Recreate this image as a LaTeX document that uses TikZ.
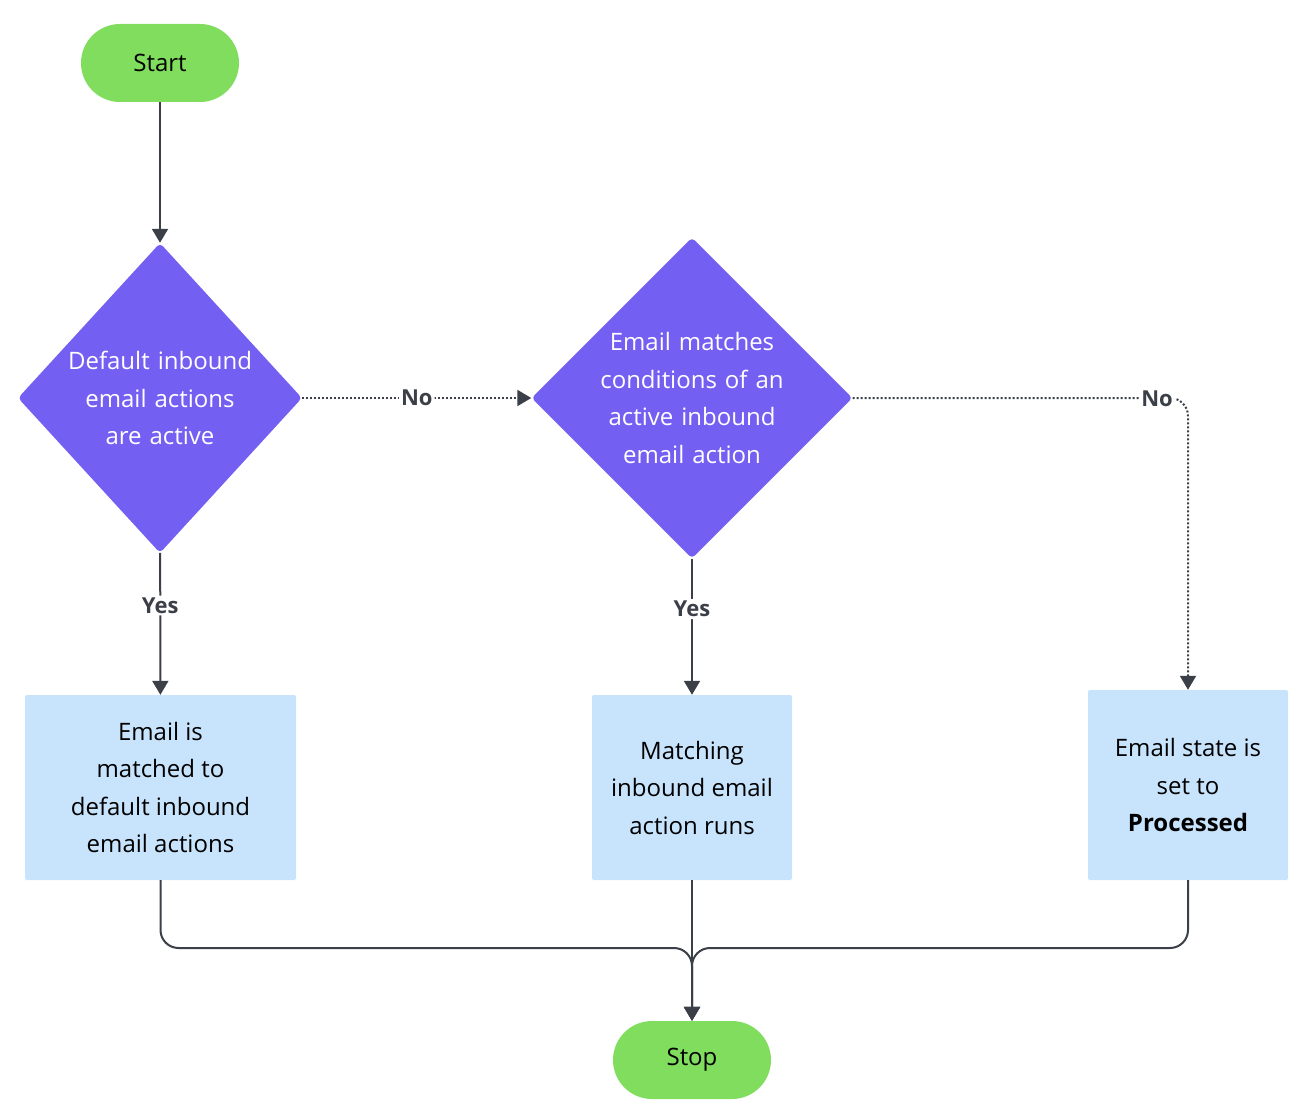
\documentclass[tikz,border=0pt]{standalone}
\usepackage{fontspec}
\setmainfont{Open Sans}
\usetikzlibrary{shapes.geometric,arrows.meta}
\definecolor{gr}{HTML}{80DD5E}
\definecolor{pu}{HTML}{7360F2}
\definecolor{lb}{HTML}{C8E4FC}
\definecolor{ln}{HTML}{3B4048}
\tikzset{
 term/.style={fill=gr,rounded corners=39pt,minimum width=158pt,minimum height=78pt,font=\fontsize{24}{30}\selectfont,text=black},
 dec/.style={diamond,fill=pu,minimum width=284pt,minimum height=310pt,inner sep=0pt,rounded corners=4pt,text width=190pt,align=center,text=white,font=\fontsize{24}{37.5}\selectfont},
 box/.style={fill=lb,rounded corners=2pt,align=center,font=\fontsize{24}{37.5}\selectfont,text=black},
 conn/.style={draw=ln,line width=2pt,-{Triangle[length=14pt,width=16pt]},rounded corners=18pt},
 dot/.style={conn,dotted},
 lab/.style={font=\bfseries\fontsize{22}{26}\selectfont,text=ln,fill=white,inner sep=2pt}
}
\begin{document}
\begin{tikzpicture}[x=1pt,y=-1pt]
\useasboundingbox (0,0) rectangle (1314,1118);
\node[term] (start) at (160,63) {Start};
\node[dec] (d1) at (160,398) {Default inbound email actions are active};
\node[dec] (d2) at (692,398) {Email matches conditions of an active inbound email action};
\node[box,minimum width=271pt,minimum height=185pt] (b1) at (160.5,787.5) {Email is\\matched to\\default inbound\\email actions};
\node[box,minimum width=200pt,minimum height=185pt] (b2) at (692,787.5) {Matching\\inbound email\\action runs};
\node[box,minimum width=200pt,minimum height=190pt] (b3) at (1188,785) {Email state is\\set to\\\textbf{Processed}};
\node[term] (stop) at (692,1060) {Stop};
\coordinate (m) at (692,948);
\draw[conn] (start) -- (d1);
\draw[conn] (d1) -- node[lab,pos=0.37]{Yes} (b1);
\draw[conn] (d2) -- node[lab,pos=0.37]{Yes} (b2);
\draw[dot] (d1) -- node[lab,fill=white]{No} (d2);
\draw[dot] (d2.east) -- (1188,398) -- (b3.north);
\node[lab] (n2) at (1157,399) {No};
\draw[conn] (b1.south) |- (m) -- (stop.north);
\draw[conn] (b3.south) |- (m) -- (stop.north);
\draw[conn] (b2) -- (stop);
\end{tikzpicture}
\end{document}
